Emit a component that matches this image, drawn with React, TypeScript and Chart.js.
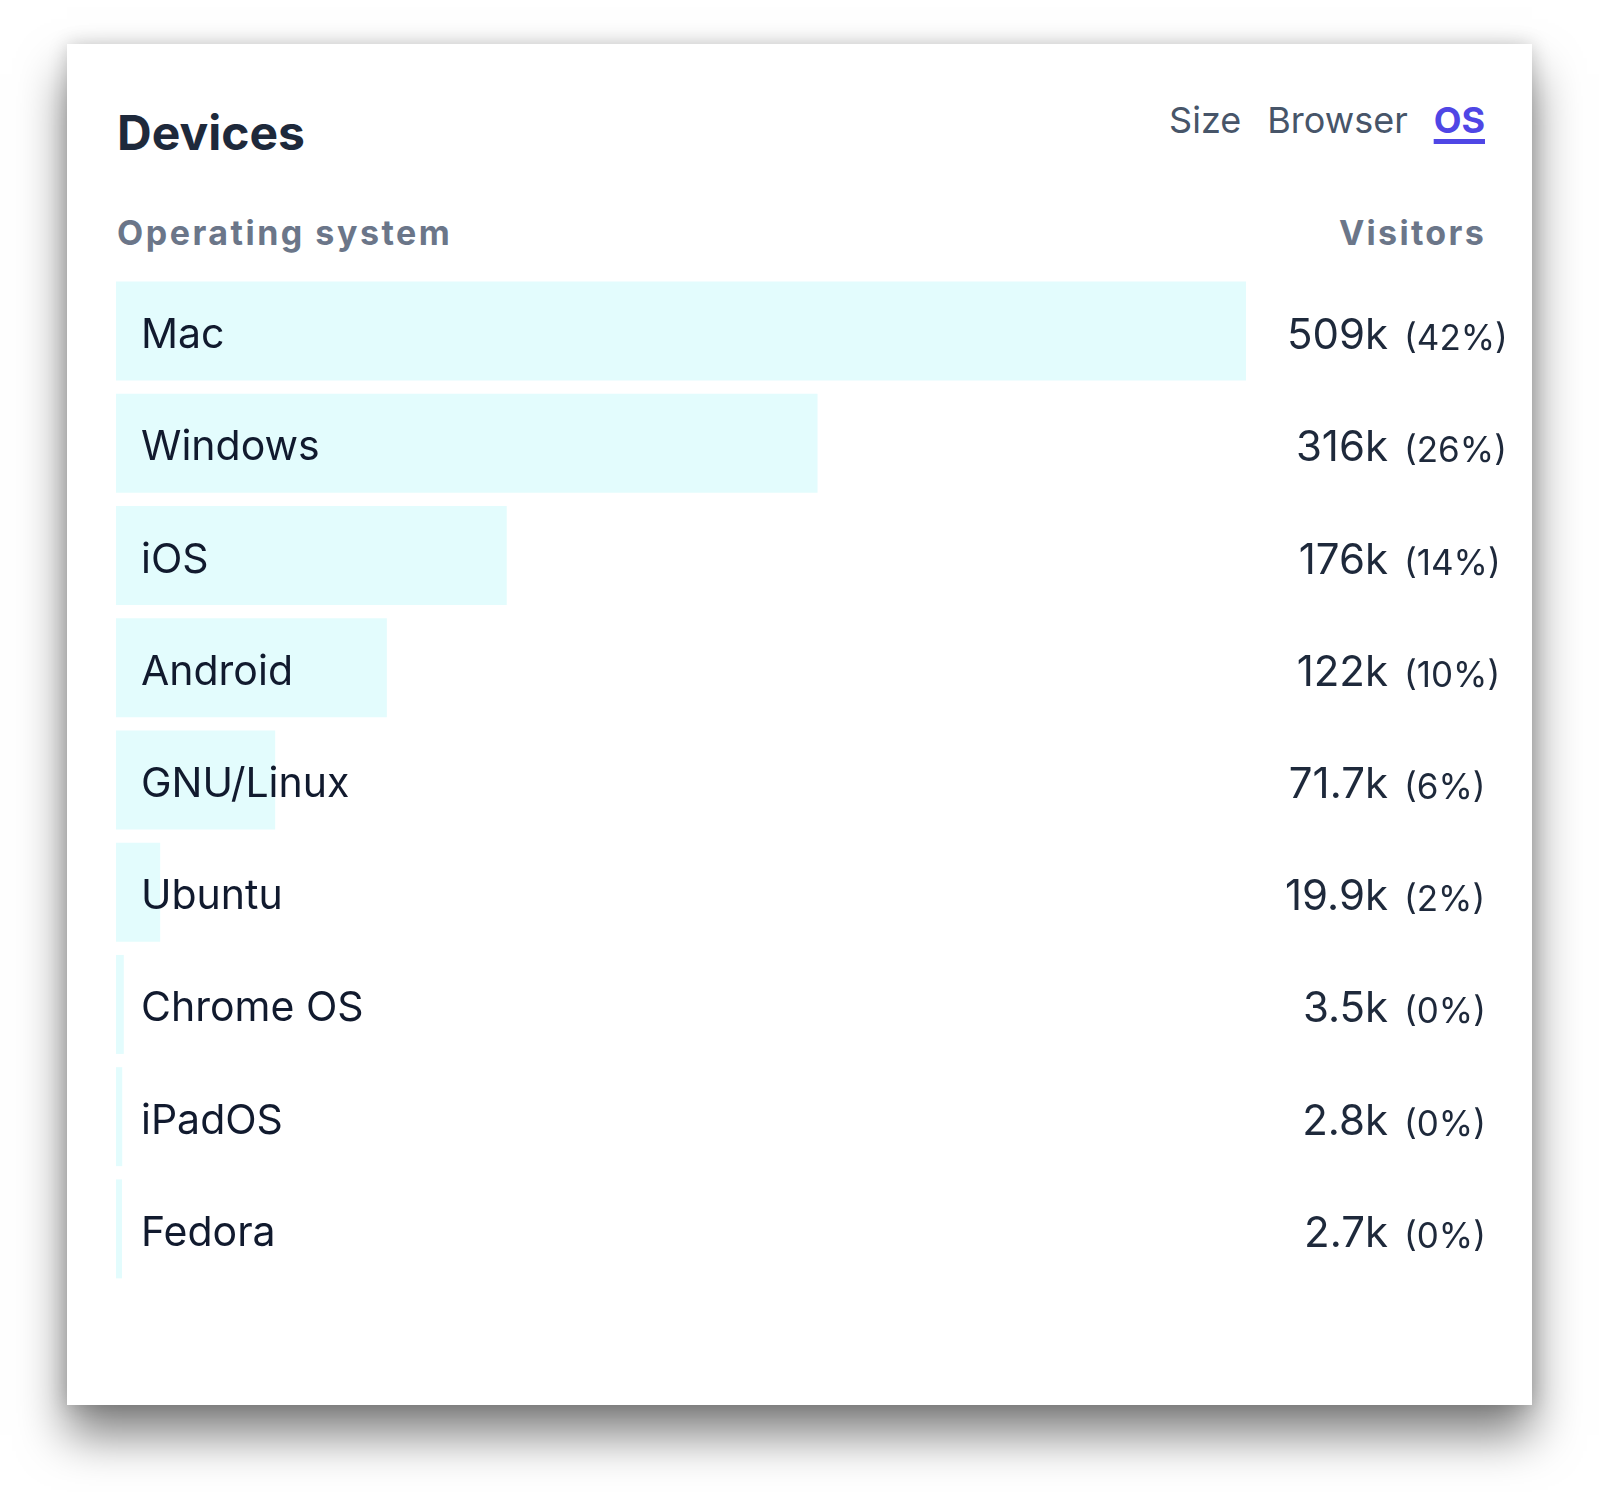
import React, { useEffect, useRef } from "react";
import { Chart, registerables } from "chart.js";

Chart.register(...registerables);

const osNames: string[] = ["Mac", "Windows", "iOS", "Android", "GNU/Linux", "Ubuntu", "Chrome OS", "iPadOS", "Fedora"];
const visitors: number[] = [509000, 316000, 176000, 122000, 71700, 19900, 3500, 2800, 2700];
const percents: number[] = [42, 26, 14, 10, 6, 2, 0, 0, 0];
const tabs: string[] = ["Size", "Browser", "OS"];
const activeTab = "OS";

const FONT = 'Inter, "Noto Sans", "DejaVu Sans", sans-serif';

function fmt(v: number): string {
  if (v >= 100000) return Math.round(v / 1000) + "k";
  return (v / 1000).toFixed(1) + "k";
}

const CANVAS_LEFT = 116;
const CANVAS_TOP = 275;
const CANVAS_W = 1414;
const CANVAS_H = 1010;

const rowTextPlugin = {
  id: "rowText",
  afterDatasetsDraw(chart: any) {
    const ctx = chart.ctx;
    const meta = chart.getDatasetMeta(0);
    const left = chart.chartArea.left;
    ctx.save();
    meta.data.forEach((bar: any, i: number) => {
      const y = bar.y;
      ctx.fillStyle = "#111a2e";
      ctx.font = `400 41px ${FONT}`;
      ctx.textAlign = "left";
      ctx.textBaseline = "alphabetic";
      ctx.fillText(osNames[i], left + 25, y + 17);
      ctx.fillStyle = "#1e293b";
      ctx.font = `400 42px ${FONT}`;
      ctx.textAlign = "right";
      ctx.fillText(fmt(visitors[i]), 1272, y + 18);
      ctx.font = `400 35px ${FONT}`;
      ctx.textAlign = "left";
      ctx.fillText(`(${percents[i]}%)`, 1288, y + 19);
    });
    ctx.restore();
  },
};

export default function App() {
  const canvasRef = useRef<HTMLCanvasElement | null>(null);

  useEffect(() => {
    if (!canvasRef.current) return;
    const chart = new Chart(canvasRef.current, {
      type: "bar",
      data: {
        labels: osNames,
        datasets: [
          {
            data: visitors,
            backgroundColor: "#e3fcfd",
            borderWidth: 0,
            barPercentage: 0.882,
            categoryPercentage: 1,
          },
        ],
      },
      options: {
        indexAxis: "y",
        responsive: false,
        animation: false,
        devicePixelRatio: 1,
        layout: { padding: { left: 0, right: CANVAS_W - 1130, top: 0, bottom: 0 } },
        scales: {
          x: { display: false, min: 0, max: Math.max(...visitors) },
          y: { display: false },
        },
        plugins: {
          legend: { display: false },
          tooltip: { enabled: false },
        },
      },
      plugins: [rowTextPlugin],
    });
    return () => chart.destroy();
  }, []);

  return (
    <div style={{ position: "absolute", left: 0, top: 0, width: 1600, height: 1492, background: "#ffffff", fontFamily: FONT, overflow: "hidden" }}>
      <div
        style={{
          position: "absolute",
          left: 67,
          top: 44,
          width: 1465,
          height: 1361,
          background: "#ffffff",
          boxShadow: "0 30px 45px 0 rgba(0,0,0,0.5), 0 0 18px rgba(0,0,0,0.18)",
        }}
      />
      <div style={{ position: "absolute", left: 117, top: 109, fontSize: 48, lineHeight: "48px", fontWeight: 700, color: "#1e293b" }}>
        Devices
      </div>
      <div style={{ position: "absolute", right: 1600 - 1485, top: 102, fontSize: 36, lineHeight: "36px", display: "flex", gap: 26 }}>
        {tabs.map((t) => (
          <span
            key={t}
            style={
              t === activeTab
                ? { color: "#4f46e5", fontWeight: 700, textDecoration: "underline", textDecorationThickness: 5, textUnderlineOffset: 6 }
                : { color: "#475569", fontWeight: 400 }
            }
          >
            {t}
          </span>
        ))}
      </div>
      <div style={{ position: "absolute", left: 117, top: 216, fontSize: 34, lineHeight: "34px", fontWeight: 700, color: "#6b7689", letterSpacing: 2.5 }}>
        Operating system
      </div>
      <div style={{ position: "absolute", right: 1600 - 1486, top: 216, fontSize: 34, lineHeight: "34px", fontWeight: 700, color: "#6b7689", letterSpacing: 2.3 }}>
        Visitors
      </div>
      <canvas
        ref={canvasRef}
        width={CANVAS_W}
        height={CANVAS_H}
        style={{ position: "absolute", left: CANVAS_LEFT, top: CANVAS_TOP, width: CANVAS_W, height: CANVAS_H }}
      />
    </div>
  );
}
